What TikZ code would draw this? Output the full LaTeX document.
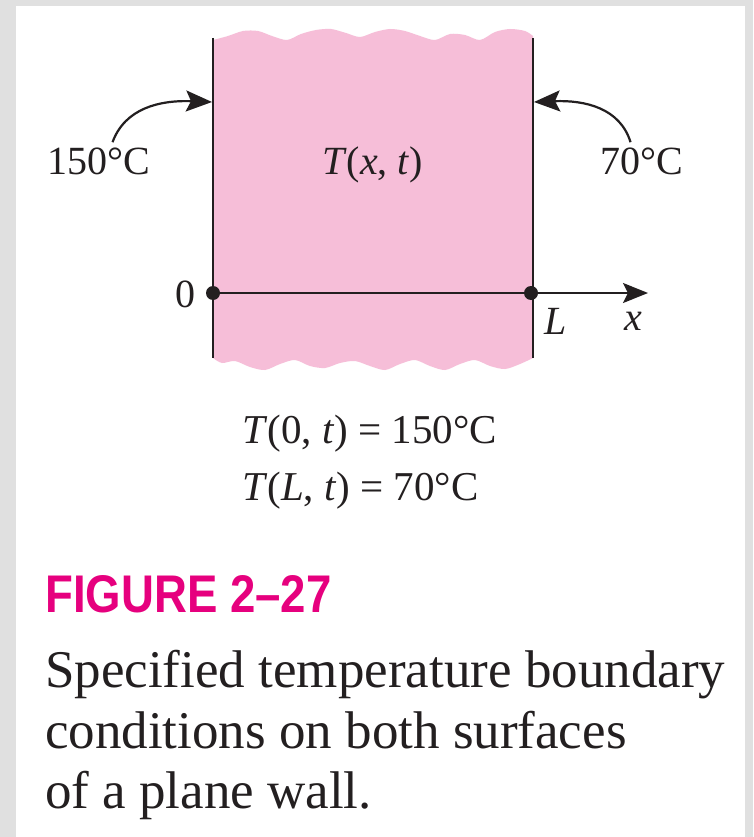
\documentclass[tikz,border=0pt]{standalone}
\usepackage{fontspec}
\setmainfont{Liberation Serif}
\newfontfamily\headfont[FakeStretch=0.86]{Liberation Sans}
\usetikzlibrary{arrows.meta,calc,positioning}
\definecolor{wallpink}{HTML}{F6BED8}
\definecolor{figmagenta}{HTML}{E6007E}
\definecolor{framegray}{HTML}{E0E0E0}
\definecolor{inkblack}{HTML}{231F20}

\begin{document}
\begin{tikzpicture}[x=1pt,y=-1pt,
    lbl/.style={inner sep=0pt,anchor=base west,text=inkblack,font=\fontsize{40}{48}\selectfont},
    captxt/.style={inner sep=0pt,anchor=base west,text=inkblack,font=\fontsize{53}{60}\selectfont},
    dot/.style={circle,fill=inkblack,inner sep=0pt,minimum size=14pt},
    heatarrow/.style={inkblack,line width=2.2pt,-{Stealth[length=26pt,width=21pt,inset=5pt]}}]
  \useasboundingbox (0,0) rectangle (753,837);
  \fill[framegray] (0,0) rectangle (753,837);
  \fill[white] (16,6) rectangle (745,837);
  % plane wall with ragged top and bottom
  \fill[wallpink] plot[smooth] coordinates {(213,40) (228,36) (243,31) (258,31) (272,36) (287,40)
      (301,34) (316,30) (331,29) (346,33) (360,37) (375,32) (390,29) (405,31) (420,36) (435,40)
      (450,34) (465,35) (480,40) (495,32) (510,29) (525,31) (533,36)}
    -- plot[smooth] coordinates {(533,358) (520,364) (505,369) (490,366) (475,360) (460,364)
      (445,370) (430,366) (415,360) (400,364) (385,370) (370,366) (355,361) (340,363)
      (325,368) (310,366) (295,360) (280,364) (265,370) (250,367) (235,361) (222,363) (213,358)}
    -- cycle;
  \coordinate (wallTL) at (213,38);
  \coordinate (wallBL) at (213,358);
  \coordinate (wallTR) at (533,38);
  \coordinate (wallBR) at (533,358);
  \draw[inkblack,line width=2pt] (wallTL) -- (wallBL);
  \draw[inkblack,line width=2pt] (wallTR) -- (wallBR);
  % temperatures
  \node[lbl] (t150) at (47,175) {150°C};
  \node[lbl] (t70) at (600,175) {70°C};
  \node[lbl] (txt) at (322,175) {\textit{T}(\textit{x}, \textit{t})};
  \coordinate (leftIn) at (212,102);
  \coordinate (rightIn) at (534,102);
  \draw[heatarrow] ($(t150.north)+(14,-6)$) .. controls (125,108) and (160,100) .. (leftIn);
  \draw[heatarrow] ($(t70.north)+(-11,-6)$) .. controls (620,108) and (585,100) .. (rightIn);
  % x axis
  \node[dot] (origin) at (213,293) {};
  \node[dot] (wallL) at (531,293) {};
  \coordinate (xtip) at (648,293);
  \draw[inkblack,line width=2pt] (origin.center) -- (wallL.center);
  \draw[inkblack,line width=2pt,-{Stealth[length=25pt,width=20pt,inset=5pt]}] (wallL.center) -- (xtip);
  \node[lbl,anchor=base east] (zero) at (196,307) {0};
  \node[lbl] (Lmark) at (544,334) {\textit{L}};
  \node[lbl] (xmark) at (624,330) {\textit{x}};
  % boundary conditions
  \node[lbl,font=\fontsize{41}{48}\selectfont] (bc1) at (242,443) {\textit{T}(0, \textit{t}) = 150°C};
  \node[lbl,font=\fontsize{41}{48}\selectfont] (bc2) at (242,500) {\textit{T}(\textit{L}, \textit{t}) = 70°C};
  % caption
  \node[inner sep=0pt,anchor=base west,text=figmagenta,font=\headfont\bfseries\fontsize{53}{60}\selectfont]
    (fig) at (45,612) {FIGURE 2–27};
  \node[captxt] (cap1) at (45,687) {Specified temperature boundary};
  \node[captxt] (cap2) at (45,748) {conditions on both surfaces};
  \node[captxt] (cap3) at (45,808) {of a plane wall.};
\end{tikzpicture}
\end{document}
